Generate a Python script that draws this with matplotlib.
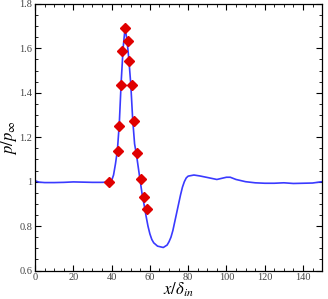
import numpy as np
import matplotlib
matplotlib.use("Agg")
import matplotlib.pyplot as plt
from matplotlib.ticker import MultipleLocator

plt.rcParams['font.family'] = 'Liberation Serif'
plt.rcParams['mathtext.fontset'] = 'stix'

# wall pressure, simulation (line)
x_line = [0, 2, 5, 10, 15, 20, 25, 30, 35, 38, 40, 41, 42, 43, 44, 45, 46, 47, 48, 49,
          50, 51, 52, 53, 54, 55, 56, 57, 58, 59, 60, 61, 62, 64, 67, 69, 70, 71, 72, 73,
          74, 75, 76, 77, 78, 79, 80, 83, 86, 90, 95, 100, 102, 105, 110, 115, 120,
          125, 130, 135, 140, 145, 150]
p_line = [1.004, 0.998, 0.996, 0.996, 0.997, 0.999, 0.998, 0.997, 0.997, 0.998, 1.005,
          1.03, 1.08, 1.14, 1.26, 1.45, 1.60, 1.69, 1.64, 1.55, 1.44, 1.28, 1.17, 1.12,
          1.06, 1.00, 0.94, 0.895, 0.845, 0.80, 0.765, 0.74, 0.725, 0.71, 0.704, 0.715,
          0.73, 0.75, 0.78, 0.82, 0.86, 0.90, 0.94, 0.975, 1.0, 1.017, 1.025, 1.03,
          1.026, 1.019, 1.01, 1.02, 1.02, 1.01, 1.0, 0.995, 0.993, 0.993, 0.995,
          0.992, 0.993, 0.994, 1.0]

# experiment (markers)
x_exp = [38.7, 43.5, 44.1, 44.8, 45.6, 47.0, 48.4, 49.3, 50.5, 51.7, 53.5, 55.4, 57.0, 58.4]
p_exp = [0.997, 1.138, 1.252, 1.434, 1.59, 1.692, 1.633, 1.545, 1.435, 1.272, 1.127,
         1.012, 0.932, 0.877]

fig = plt.figure(figsize=(3.28, 2.99), dpi=100)
ax = fig.add_axes([0.107, 0.095, 0.875, 0.892])

ax.plot(x_line, p_line, color='#3a3aff', lw=1.2)
ax.plot(x_exp, p_exp, 'D', color='#e00000', ms=4.8, mec='#e00000')

ax.set_xlim(0, 150)
ax.set_ylim(0.6, 1.8)
ax.xaxis.set_major_locator(MultipleLocator(20))
ax.xaxis.set_minor_locator(MultipleLocator(5))
ax.yaxis.set_minor_locator(MultipleLocator(0.05))
ax.set_yticks([0.6, 0.8, 1.0, 1.2, 1.4, 1.6, 1.8])
ax.set_yticklabels(['0.6', '0.8', '1', '1.2', '1.4', '1.6', '1.8'])
ax.tick_params(which='both', direction='in', top=True, right=True,
               labelsize=7.5, labelcolor='#444444', pad=2)
ax.tick_params(which='major', length=4, width=0.8)
ax.tick_params(which='minor', length=2, width=0.6)
for s in ax.spines.values():
    s.set_linewidth(0.9)

ax.set_xlabel(r'$x/\delta_{in}$', fontsize=12, labelpad=-1)
ax.set_ylabel(r'$p/p_{\infty}$', fontsize=12, labelpad=0)

fig.savefig('out.png', dpi=100)
